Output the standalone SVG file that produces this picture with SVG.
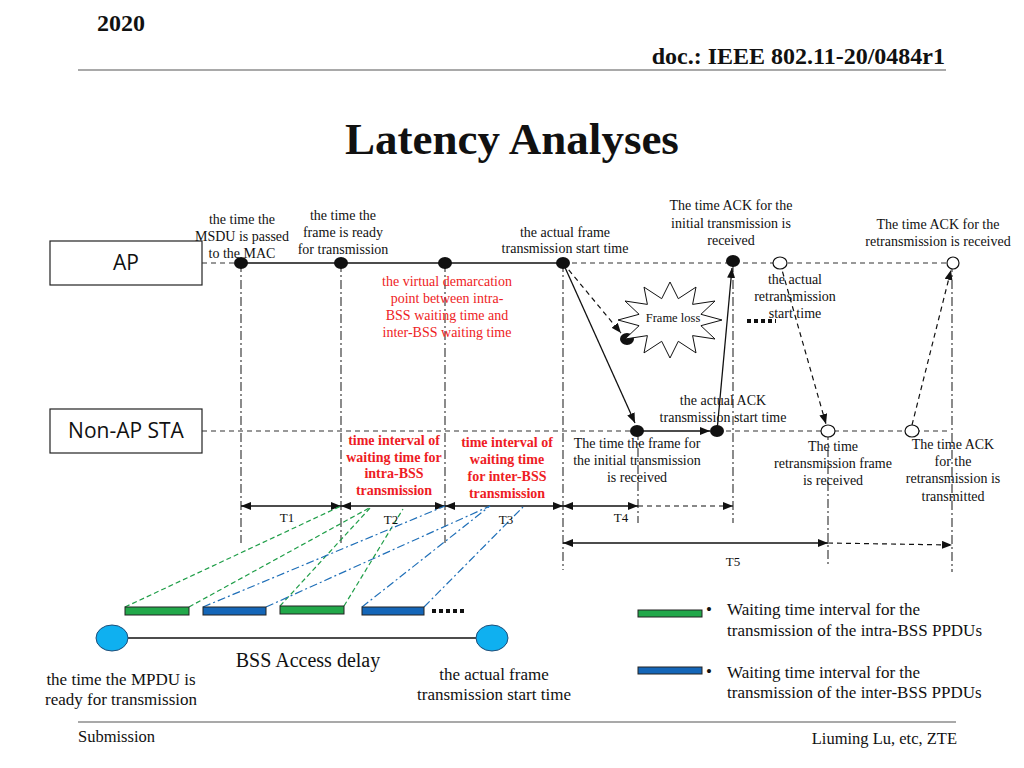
<svg xmlns="http://www.w3.org/2000/svg" width="1024" height="768" viewBox="0 0 1024 768">
<defs>
<style>
text{font-family:"Liberation Serif","Times New Roman",serif;fill:#111;}
.t14{font-size:14px;text-anchor:middle;}
.red{font-size:14px;text-anchor:middle;fill:#ee1c24;}
.redb{font-size:14px;text-anchor:middle;fill:#ee1c24;font-weight:bold;}
.tl{font-size:13px;text-anchor:middle;}
.b17{font-size:17px;}
.box{fill:#fff;stroke:#222;stroke-width:1.2;}
.boxt{font-family:"Open Sans","Noto Sans",sans-serif;font-size:21px;text-anchor:middle;fill:#111;}
.hd{stroke:#333;stroke-width:1.2;stroke-dasharray:5,4;fill:none;}
.vd{stroke:#4d4d4d;stroke-width:1.3;stroke-dasharray:9,3,2,3;fill:none;}
.sol{stroke:#111;stroke-width:1.3;fill:none;}
.dsh{stroke:#111;stroke-width:1.2;stroke-dasharray:5,4;fill:none;}
.dot{fill:#111;}
.odot{fill:#fff;stroke:#111;stroke-width:1.2;}
.gl{stroke:#1f9e48;stroke-width:1.2;stroke-dasharray:5,3;fill:none;}
.bl{stroke:#1f6fb8;stroke-width:1.2;stroke-dasharray:8,3,2,3;fill:none;}
.gbar{fill:#22a84a;stroke:#222;stroke-width:1;}
.bbar{fill:#1466b8;stroke:#222;stroke-width:1;}
.sq{stroke:#111;stroke-width:4;stroke-dasharray:4,3;fill:none;}
</style>
<marker id="ah" viewBox="0 0 10 8" refX="10" refY="4" markerWidth="10" markerHeight="8" markerUnits="userSpaceOnUse" orient="auto-start-reverse"><path d="M0,0 L10,4 L0,8 z" fill="#111"/></marker>
</defs>
<rect width="1024" height="768" fill="#fff"/>

<g id="header">
<text x="97" y="31" style="font-size:24px;font-weight:bold;">2020</text>
<text x="945" y="64" style="font-size:24px;font-weight:bold;text-anchor:end;">doc.: IEEE 802.11-20/0484r1</text>
<line x1="78" y1="70" x2="946" y2="70" stroke="#555" stroke-width="1.2"/>
<text x="512" y="154" style="font-size:45px;font-weight:bold;text-anchor:middle;">Latency Analyses</text>
</g>

<g id="footer">
<line x1="78" y1="722" x2="956" y2="722" stroke="#555" stroke-width="1.2"/>
<text x="78" y="742" style="font-size:16.5px;">Submission</text>
<text x="957" y="744" style="font-size:16.5px;text-anchor:end;">Liuming Lu, etc, ZTE</text>
</g>

<g id="node-ap">
<rect class="box" x="50" y="241" width="152" height="44"/>
<text class="boxt" x="126" y="270">AP</text>
</g>
<g id="node-sta">
<rect class="box" x="50" y="409" width="152" height="44"/>
<text class="boxt" x="126" y="438">Non-AP STA</text>
</g>

<g id="connectors">
<!-- timelines -->
<line class="hd" x1="202" y1="263" x2="241" y2="263"/>
<line class="sol" x1="241" y1="263" x2="563" y2="263"/>
<line class="hd" x1="563" y1="263" x2="946" y2="263"/>
<line class="hd" x1="202" y1="431" x2="637" y2="431"/>
<line class="hd" x1="717" y1="431" x2="948" y2="431"/>
<!-- vertical dash-dot lines -->
<line class="vd" x1="241" y1="263" x2="241" y2="543"/>
<line class="vd" x1="341" y1="263" x2="341" y2="543"/>
<line class="vd" x1="445" y1="263" x2="445" y2="543"/>
<line class="vd" x1="563" y1="263" x2="563" y2="570"/>
<line class="vd" x1="733" y1="263" x2="733" y2="523"/>
<line class="vd" x1="638" y1="431" x2="638" y2="523"/>
<line class="vd" x1="828" y1="431" x2="828" y2="567"/>
<line class="vd" x1="952" y1="263" x2="952" y2="572"/>
<!-- transmissions -->
<line class="sol" x1="563" y1="263" x2="635" y2="423" marker-end="url(#ah)"/>
<line class="dsh" x1="563" y1="263" x2="621" y2="333" marker-end="url(#ah)"/>
<line class="sol" x1="637" y1="431" x2="710" y2="431" marker-end="url(#ah)"/>
<line class="sol" x1="717" y1="431" x2="732" y2="268" marker-end="url(#ah)"/>
<line class="dsh" x1="780" y1="263" x2="826" y2="424" marker-end="url(#ah)"/>
<line class="dsh" x1="912" y1="425" x2="951" y2="270" marker-end="url(#ah)"/>
<!-- interval arrows -->
<line class="sol" x1="241" y1="506" x2="341" y2="506" marker-start="url(#ah)" marker-end="url(#ah)"/>
<line class="sol" x1="341" y1="506" x2="445" y2="506" marker-start="url(#ah)" marker-end="url(#ah)"/>
<line class="sol" x1="445" y1="506" x2="563" y2="506" marker-start="url(#ah)" marker-end="url(#ah)"/>
<line class="sol" x1="563" y1="506" x2="638" y2="506" marker-start="url(#ah)" marker-end="url(#ah)"/>
<line class="dsh" x1="638" y1="506" x2="733" y2="506" marker-end="url(#ah)"/>
<line class="sol" x1="563" y1="543" x2="828" y2="543" marker-start="url(#ah)" marker-end="url(#ah)"/>
<line class="dsh" x1="828" y1="543" x2="952" y2="545" marker-end="url(#ah)"/>
<!-- projection lines -->
<line class="gl" x1="125" y1="607" x2="341" y2="506"/>
<line class="gl" x1="189" y1="607" x2="371" y2="507"/>
<line class="gl" x1="280" y1="606" x2="371" y2="507"/>
<line class="gl" x1="344" y1="606" x2="403" y2="509"/>
<line class="bl" x1="203" y1="607" x2="445" y2="506"/>
<line class="bl" x1="266" y1="607" x2="490" y2="506"/>
<line class="bl" x1="362" y1="607" x2="490" y2="506"/>
<line class="bl" x1="424" y1="607" x2="523" y2="507"/>
<!-- BSS access delay line -->
<line class="sol" x1="128" y1="638" x2="476" y2="638" stroke-width="1.5"/>
</g>

<g id="events">
<ellipse class="dot" cx="241" cy="263" rx="7" ry="6"/>
<ellipse class="dot" cx="341" cy="263" rx="7" ry="6"/>
<ellipse class="dot" cx="445" cy="263" rx="7" ry="6"/>
<ellipse class="dot" cx="563" cy="263" rx="7" ry="6"/>
<ellipse class="dot" cx="733" cy="261" rx="7" ry="6"/>
<ellipse class="odot" cx="780" cy="263" rx="7" ry="6"/>
<ellipse class="odot" cx="953" cy="263" rx="6" ry="6"/>
<ellipse class="dot" cx="627" cy="339" rx="7" ry="6"/>
<ellipse class="dot" cx="637" cy="431" rx="7" ry="6"/>
<ellipse class="dot" cx="717" cy="431" rx="7" ry="6"/>
<ellipse class="odot" cx="828" cy="431" rx="7" ry="6"/>
<ellipse class="odot" cx="912" cy="431" rx="7" ry="6"/>
</g>

<g id="frame-loss">
<polygon points="670,282 678.3,298.7 696,287.1 692.6,304.4 715,301 700.9,314.3 722,320 700.9,325.7 715,339 692.6,335.6 696,352.9 678.3,341.3 670,358 661.7,341.3 644,352.9 647.4,335.6 625,339 639.1,325.7 618,320 639.1,314.3 625,301 647.4,304.4 644,287.1 661.7,298.7" fill="#fff" stroke="#111" stroke-width="1"/>
<text x="673" y="322" style="font-size:12.5px;text-anchor:middle;">Frame loss</text>
</g>
<line class="sq" x1="747" y1="321" x2="776" y2="321"/>

<g id="labels-top">
<text class="t14" x="242" y="224">the time the</text>
<text class="t14" x="242" y="241">MSDU is passed</text>
<text class="t14" x="242" y="258">to the MAC</text>
<text class="t14" x="343" y="220">the time the</text>
<text class="t14" x="343" y="237">frame is ready</text>
<text class="t14" x="343" y="254">for transmission</text>
<text class="t14" x="565" y="237">the actual frame</text>
<text class="t14" x="565" y="253">transmission start time</text>
<text class="t14" x="731" y="210">The time ACK for the</text>
<text class="t14" x="731" y="228">initial transmission is</text>
<text class="t14" x="731" y="245">received</text>
<text class="t14" x="938" y="229">The time ACK for the</text>
<text class="t14" x="938" y="246">retransmission is received</text>
<text class="t14" x="795" y="284">the actual</text>
<text class="t14" x="795" y="301">retransmission</text>
<text class="t14" x="795" y="318">start time</text>
<text class="red" x="447" y="286">the virtual demarcation</text>
<text class="red" x="447" y="303">point between intra-</text>
<text class="red" x="447" y="320">BSS waiting time and</text>
<text class="red" x="447" y="337">inter-BSS waiting time</text>
</g>

<g id="labels-sta">
<text class="t14" x="723" y="405">the actual ACK</text>
<text class="t14" x="723" y="422">transmission start time</text>
<text class="redb" x="394" y="445">time interval of</text>
<text class="redb" x="394" y="462">waiting time for</text>
<text class="redb" x="394" y="478">intra-BSS</text>
<text class="redb" x="394" y="495">transmission</text>
<text class="redb" x="507" y="447">time interval of</text>
<text class="redb" x="507" y="464">waiting time</text>
<text class="redb" x="507" y="481">for inter-BSS</text>
<text class="redb" x="507" y="498">transmission</text>
<text class="t14" x="637" y="448">The time the frame for</text>
<text class="t14" x="637" y="465">the initial transmission</text>
<text class="t14" x="637" y="482">is received</text>
<text class="t14" x="833" y="451">The time</text>
<text class="t14" x="833" y="468">retransmission frame</text>
<text class="t14" x="833" y="485">is received</text>
<text class="t14" x="953" y="449">The time ACK</text>
<text class="t14" x="953" y="466">for the</text>
<text class="t14" x="953" y="483">retransmission is</text>
<text class="t14" x="953" y="501">transmitted</text>
<text class="tl" x="287" y="522">T1</text>
<text class="tl" x="391" y="524">T2</text>
<text class="tl" x="506" y="524">T3</text>
<text class="tl" x="621" y="522">T4</text>
<text class="tl" x="733" y="566">T5</text>
</g>

<g id="bss-access">
<rect class="gbar" x="125" y="607" width="64" height="8"/>
<rect class="bbar" x="203" y="607" width="63" height="8"/>
<rect class="gbar" x="280" y="606" width="64" height="8"/>
<rect class="bbar" x="362" y="607" width="62" height="8"/>
<line class="sq" x1="432" y1="611" x2="466" y2="611"/>
<ellipse cx="112" cy="638" rx="16" ry="13" fill="#0fb0f0" stroke="#1f4e79" stroke-width="1"/>
<ellipse cx="492" cy="638" rx="16" ry="13" fill="#0fb0f0" stroke="#1f4e79" stroke-width="1"/>
<text class="b17" x="308" y="667" style="font-size:20px;text-anchor:middle;">BSS Access delay</text>
<text class="b17" x="121" y="685" style="text-anchor:middle;">the time the MPDU is</text>
<text class="b17" x="121" y="705" style="text-anchor:middle;">ready for transmission</text>
<text class="b17" x="494" y="680" style="text-anchor:middle;">the actual frame</text>
<text class="b17" x="494" y="700" style="text-anchor:middle;">transmission start time</text>
</g>

<g id="legend">
<rect class="gbar" x="638" y="610" width="64" height="7"/>
<text class="b17" x="706" y="615">•</text>
<text class="b17" x="727" y="615">Waiting time interval for the</text>
<text class="b17" x="727" y="636">transmission of the intra-BSS PPDUs</text>
<rect class="bbar" x="638" y="667" width="64" height="7"/>
<text class="b17" x="706" y="677">•</text>
<text class="b17" x="727" y="678">Waiting time interval for the</text>
<text class="b17" x="727" y="698">transmission of the inter-BSS PPDUs</text>
</g>
</svg>
